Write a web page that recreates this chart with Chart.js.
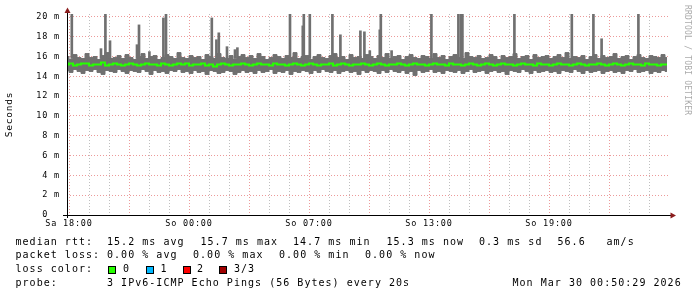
<!DOCTYPE html>
<html>
<head>
<meta charset="utf-8">
<script src="https://cdn.jsdelivr.net/npm/chart.js@4"></script>
<style>
  body { margin: 0; background: #fff; }
  #wrap { position: relative; width: 697px; height: 297px; }
  .txt { position: absolute; font-family: "DejaVu Sans Mono", monospace; font-size: 10px; letter-spacing: 1.03px; line-height: 14px; color: #000; white-space: pre; }
  .box { position: absolute; width: 6px; height: 6px; border: 1px solid #000; }
  #mark { position: absolute; left: 683px; top: 5px; writing-mode: vertical-rl; font-family: "DejaVu Sans Mono", monospace; font-size: 8px; letter-spacing: 0.2px; color: #aaa; white-space: pre; }
</style>
</head>
<body>
<div id="wrap">
  <canvas id="smokeChart" width="697" height="297"></canvas>
  <div class="txt" style="left:15.5px;top:234.5px">median rtt:</div>
  <div class="txt" style="left:107px;top:234.5px">15.2 ms avg</div>
  <div class="txt" style="left:200.5px;top:234.5px">15.7 ms max</div>
  <div class="txt" style="left:293px;top:234.5px">14.7 ms min</div>
  <div class="txt" style="left:386.5px;top:234.5px">15.3 ms now</div>
  <div class="txt" style="left:479px;top:234.5px">0.3 ms sd</div>
  <div class="txt" style="left:557.5px;top:234.5px">56.6</div>
  <div class="txt" style="left:606.5px;top:234.5px">am/s</div>
  <div class="txt" style="left:15.5px;top:248.2px">packet loss:</div>
  <div class="txt" style="left:107px;top:248.2px">0.00 % avg</div>
  <div class="txt" style="left:193px;top:248.2px">0.00 % max</div>
  <div class="txt" style="left:279px;top:248.2px">0.00 % min</div>
  <div class="txt" style="left:365px;top:248.2px">0.00 % now</div>
  <div class="txt" style="left:15.5px;top:262px">loss color:</div>
  <div class="box" style="left:108px;top:265.5px;background:#26ff00"></div>
  <div class="txt" style="left:123px;top:262px">0</div>
  <div class="box" style="left:145.5px;top:265.5px;background:#00b8ff"></div>
  <div class="txt" style="left:160.5px;top:262px">1</div>
  <div class="box" style="left:182.5px;top:265.5px;background:#ff0000"></div>
  <div class="txt" style="left:197px;top:262px">2</div>
  <div class="box" style="left:219px;top:265.5px;background:#a00000"></div>
  <div class="txt" style="left:234px;top:262px">3/3</div>
  <div class="txt" style="left:15.5px;top:275.7px">probe:</div>
  <div class="txt" style="left:107px;top:275.7px">3 IPv6-ICMP Echo Pings (56 Bytes) every 20s</div>
  <div class="txt" style="left:512.5px;top:275.7px">Mon Mar 30 00:50:29 2026</div>
  <div id="mark">RRDTOOL / TOBI OETIKER</div>
</div>
<script>
// Zeitachse: Stunden seit Sa 18:00, ein Wert alle 12 Minuten
const startHour = -0.1;
const stepHours = 0.2;

// Rauch (min/max der Pings) und Median in ms
const smokeHigh = [
  16.0, 15.7, 16.2, 15.9, 15.8, 16.3, 15.9, 16.0, 15.7, 16.1, 16.4, 15.8, 15.9, 16.1, 15.8,
  16.2, 15.9, 15.7, 16.0, 16.3, 15.8, 16.0, 16.1, 15.7, 15.9, 16.2, 16.0, 15.8, 16.4, 15.9,
  15.8, 16.1, 15.9, 16.0, 15.7, 16.2, 16.0, 15.8, 16.3, 15.9, 15.8, 16.1, 15.7, 16.0, 16.2,
  15.9, 16.1, 15.8, 16.3, 16.0, 15.7, 15.9, 16.2, 16.0, 15.8, 16.1, 15.9, 16.4, 15.8, 16.0,
  16.1, 15.7, 16.0, 16.2, 15.9, 15.8, 16.1, 16.3, 15.9, 16.0, 15.7, 16.2, 15.9, 16.0, 15.8,
  16.2, 16.0, 15.8, 16.1, 15.9, 16.3, 15.8, 16.0, 16.1, 15.7, 16.0, 16.2, 15.9, 15.8, 16.1,
  16.0, 15.8, 16.3, 15.9, 16.1, 15.7, 16.0, 16.2, 15.9, 15.8, 16.4, 16.0, 15.9, 16.1, 15.8,
  15.9, 16.2, 16.0, 15.7, 16.1, 15.9, 16.0, 16.3, 15.8, 16.0, 16.1, 15.7, 16.2, 15.9, 16.0,
  16.1, 15.8, 16.0, 16.2, 15.9, 16.4, 15.8, 16.0, 15.9, 16.1, 15.7, 16.0, 16.2, 15.8, 16.1,
  15.9, 16.0, 16.3, 15.8, 16.0, 16.1, 15.7, 16.0, 16.2, 15.9, 15.8, 16.1, 16.0, 15.9, 16.2,
  15.9
];
const smokeLow = [
  14.6, 14.4, 14.7, 14.5, 14.3, 14.6, 14.5, 14.7, 14.4, 14.2, 14.6, 14.5, 14.4, 14.7, 14.5,
  14.3, 14.6, 14.5, 14.4, 14.7, 14.5, 14.2, 14.6, 14.4, 14.5, 14.3, 14.6, 14.5, 14.7, 14.4,
  14.5, 14.3, 14.6, 14.4, 14.5, 14.2, 14.6, 14.5, 14.3, 14.4, 14.6, 14.5, 14.2, 14.4, 14.6,
  14.4, 14.5, 14.3, 14.6, 14.4, 14.5, 14.7, 14.3, 14.5, 14.4, 14.6, 14.2, 14.5, 14.4, 14.6,
  14.5, 14.3, 14.6, 14.4, 14.7, 14.5, 14.4, 14.6, 14.3, 14.5, 14.6, 14.4, 14.5, 14.2, 14.6,
  14.4, 14.6, 14.5, 14.3, 14.6, 14.4, 14.7, 14.5, 14.4, 14.6, 14.3, 14.5, 14.1, 14.6, 14.4,
  14.5, 14.7, 14.4, 14.5, 14.3, 14.6, 14.5, 14.4, 14.6, 14.3, 14.5, 14.7, 14.4, 14.5, 14.6,
  14.3, 14.5, 14.6, 14.4, 14.5, 14.2, 14.6, 14.5, 14.4, 14.7, 14.5, 14.3, 14.6, 14.4, 14.5,
  14.6, 14.4, 14.5, 14.3, 14.6, 14.5, 14.4, 14.7, 14.5, 14.3, 14.6, 14.4, 14.5, 14.6, 14.3,
  14.5, 14.6, 14.4, 14.5, 14.3, 14.6, 14.5, 14.7, 14.4, 14.5, 14.6, 14.3, 14.5, 14.4, 14.6,
  14.5
];
const medianRtt = [
  15.2, 15.3, 15.1, 15.2, 15.3, 15.3, 15.1, 15.2, 15.2, 15.4, 15.1, 15.2, 15.3, 15.2, 15.1,
  15.2, 15.3, 15.2, 15.1, 15.2, 15.3, 15.2, 15.2, 15.1, 15.3, 15.2, 15.1, 15.2, 15.3, 15.2,
  15.3, 15.1, 15.2, 15.2, 15.3, 15.1, 15.2, 15.0, 15.2, 15.3, 15.2, 15.1, 15.2, 15.2, 15.3,
  15.2, 15.1, 15.2, 15.3, 15.2, 15.2, 15.1, 15.3, 15.2, 15.2, 15.1, 15.2, 15.3, 15.2, 15.1,
  15.2, 15.3, 15.2, 15.1, 15.2, 15.2, 15.3, 15.1, 15.2, 15.3, 15.2, 15.1, 15.2, 15.2, 15.3,
  15.2, 15.1, 15.2, 15.3, 15.2, 15.1, 15.2, 15.2, 15.3, 15.2, 15.1, 15.2, 15.3, 15.2, 15.2,
  15.1, 15.2, 15.3, 15.2, 15.2, 15.1, 15.3, 15.2, 15.2, 15.1, 15.2, 15.3, 15.2, 15.1, 15.2,
  15.3, 15.2, 15.1, 15.2, 15.3, 15.2, 15.2, 15.1, 15.2, 15.3, 15.2, 15.2, 15.1, 15.3, 15.2,
  15.2, 15.1, 15.2, 15.3, 15.2, 15.2, 15.1, 15.2, 15.3, 15.2, 15.1, 15.2, 15.2, 15.3, 15.2,
  15.1, 15.2, 15.3, 15.2, 15.1, 15.2, 15.3, 15.2, 15.2, 15.1, 15.3, 15.2, 15.2, 15.1, 15.2,
  15.2
];

// Ausreisser (Spitzen): Zeitpunkt in Stunden und Höhe in ms
const spikeHours = [0.14, 1.6, 1.82, 2.05, 3.4, 3.5, 4.02, 4.72, 4.85, 7.14, 7.37, 7.49, 7.9, 8.3, 8.42,
  11.05, 11.69, 11.74, 12.04, 13.17, 13.57, 14.57, 14.77, 15.04, 15.54, 15.59, 16.13,
  18.12, 19.47, 19.6, 19.67, 22.27, 25.14, 26.22, 26.63, 28.47];
const spikeTops = [20.3, 16.8, 20.3, 17.6, 17.2, 19.2, 16.5, 19.9, 20.3, 19.9, 17.7, 18.4, 17.0, 16.7, 16.9,
  20.3, 19.1, 20.3, 20.3, 20.3, 18.2, 18.6, 18.5, 16.6, 18.7, 20.3, 16.6,
  20.3, 20.3, 20.3, 20.3, 20.3, 20.3, 20.3, 17.8, 20.3];
const spikeBase = 15.8;

// Achsenbeschriftung
const xLabelHours = [0, 6, 12, 18, 24];
const xLabels = ["Sa 18:00", "So 00:00", "So 07:00", "So 13:00", "So 19:00"];
const yTicks = [0, 1, 2, 3, 4, 5, 6, 7, 8, 9, 10, 11, 12, 13, 14, 15, 16, 17, 18, 19, 20];

const toPoints = arr => arr.map((v, i) => ({ x: startHour + i * stepHours, y: v }));
const spikes = spikeHours.map((h, i) => ({ x: h, y: [spikeBase, spikeTops[i]] }));

const majorGrid = 'rgba(230, 120, 120, 0.75)';
const minorGrid = 'rgba(170, 170, 170, 0.75)';
const smokeGray = '#707070';

const letterSpacing = {
  id: 'letterSpacing',
  beforeDraw(chart) { chart.ctx.letterSpacing = '0.8px'; }
};

const axisArrows = {
  id: 'axisArrows',
  afterDraw(chart) {
    const { ctx, chartArea: { left, right, top, bottom } } = chart;
    ctx.save();
    ctx.strokeStyle = '#000';
    ctx.lineWidth = 1;
    ctx.beginPath();
    ctx.moveTo(left - 4, bottom + 0.5);
    ctx.lineTo(right + 2, bottom + 0.5);
    ctx.moveTo(left + 0.5, bottom + 3);
    ctx.lineTo(left + 0.5, top - 1);
    ctx.stroke();
    ctx.fillStyle = '#8b1c1c';
    ctx.beginPath();
    ctx.moveTo(left + 0.5, top - 6.5);
    ctx.lineTo(left - 2.5, top - 1);
    ctx.lineTo(left + 3.5, top - 1);
    ctx.fill();
    ctx.beginPath();
    ctx.moveTo(right + 7, bottom + 0.5);
    ctx.lineTo(right + 1.5, bottom - 2.5);
    ctx.lineTo(right + 1.5, bottom + 3.5);
    ctx.fill();
    ctx.restore();
  }
};

const ctx = document.getElementById('smokeChart').getContext('2d');
const smokeChart = new Chart(ctx, {
  type: 'line',
  data: {
    datasets: [
      {
        label: 'median rtt',
        data: toPoints(medianRtt),
        borderColor: '#26ff00',
        borderWidth: 2,
        stepped: 'middle',
        pointRadius: 0,
        fill: false
      },
      {
        type: 'bar',
        label: 'spikes',
        data: spikes,
        backgroundColor: smokeGray,
        borderWidth: 0,
        barThickness: 2,
        grouped: false
      },
      {
        label: 'smoke low',
        data: toPoints(smokeLow),
        borderColor: smokeGray,
        borderWidth: 1,
        stepped: 'middle',
        pointRadius: 0,
        fill: false
      },
      {
        label: 'smoke high',
        data: toPoints(smokeHigh),
        borderColor: smokeGray,
        backgroundColor: smokeGray,
        borderWidth: 1,
        stepped: 'middle',
        pointRadius: 0,
        fill: '-1'
      }
    ]
  },
  options: {
    responsive: false,
    animation: false,
    devicePixelRatio: 1,
    layout: { padding: { left: 0, top: 14, right: 28, bottom: 60 } },
    plugins: {
      legend: { display: false },
      tooltip: { enabled: false }
    },
    scales: {
      x: {
        type: 'linear',
        min: -0.1,
        max: 30,
        offset: false,
        afterFit: s => { s.height = 22; },
        afterBuildTicks: s => {
          const t = [];
          for (let h = 0; h < 30; h++) t.push({ value: h });
          s.ticks = t;
        },
        ticks: {
          autoSkip: false,
          maxRotation: 0,
          padding: 4,
          color: '#000',
          font: { family: 'DejaVu Sans Mono', size: 8.5 },
          callback: v => {
            const i = xLabelHours.indexOf(v);
            return i >= 0 ? xLabels[i] : '';
          }
        },
        grid: {
          offset: false,
          drawTicks: false,
          color: c => (c.tick && c.tick.value % 3 === 0) ? majorGrid : minorGrid
        },
        border: { display: false, dash: [1, 2] }
      },
      y: {
        min: 0,
        max: 20.3,
        afterFit: s => { s.width = 67; },
        afterBuildTicks: s => { s.ticks = yTicks.map(v => ({ value: v })); },
        title: {
          display: true,
          text: 'Seconds',
          color: '#000',
          padding: { top: 4, bottom: 0 },
          font: { family: 'DejaVu Sans Mono', size: 9.5 }
        },
        ticks: {
          padding: 7,
          color: '#000',
          font: { family: 'DejaVu Sans Mono', size: 8.5 },
          callback: v => v % 2 !== 0 ? '' : (v === 0 ? '0  ' : v + ' m')
        },
        grid: {
          drawTicks: false,
          color: c => (c.tick && c.tick.value % 2 === 0) ? majorGrid : minorGrid
        },
        border: { display: false, dash: [1, 2] }
      }
    }
  },
  plugins: [letterSpacing, axisArrows]
});
</script>
</body>
</html>
